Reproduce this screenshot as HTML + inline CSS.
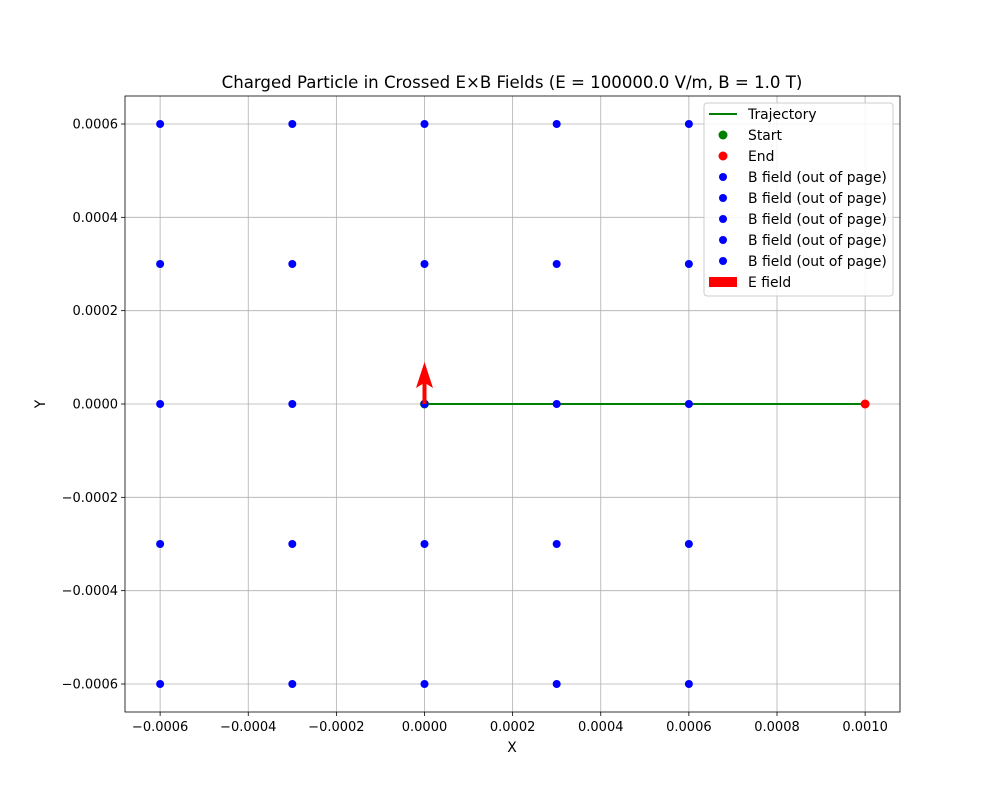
<!DOCTYPE html>
<html><head><meta charset="utf-8"><style>
body{margin:0;background:#fff;}
svg{display:block;font-family:"DejaVu Sans","Liberation Sans",sans-serif;}
</style></head><body>
<svg id="chart" width="1000" height="800" viewBox="0 0 1000 800"></svg>
<script>
const xTicks=[-0.0006,-0.0004,-0.0002,0.0000,0.0002,0.0004,0.0006,0.0008,0.0010];
const yTicks=[-0.0006,-0.0004,-0.0002,0.0000,0.0002,0.0004,0.0006];
const xTickLabels=["\u22120.0006","\u22120.0004","\u22120.0002","0.0000","0.0002","0.0004","0.0006","0.0008","0.0010"];
const yTickLabels=["\u22120.0006","\u22120.0004","\u22120.0002","0.0000","0.0002","0.0004","0.0006"];
const bGridX=[-0.0006,-0.0003,0,0.0003,0.0006];
const bGridY=[-0.0006,-0.0003,0,0.0003,0.0006];
const trajX=[0,0.0010];
const trajY=[0,0];
const startPt=[0,0];
const endPt=[0.0010,0];
const eField=[0,0,0,0.00009];

const L=125,R=900,T=96,B=712;
const sx=v=>424.5+v*(88.125/0.0002);
const sy=v=>404-v*(93.333/0.0002);
const NS="http://www.w3.org/2000/svg";
const svg=document.getElementById('chart');
function mk(tag,attrs,parent){const e=document.createElementNS(NS,tag);for(const k in attrs)e.setAttribute(k,attrs[k]);(parent||svg).appendChild(e);return e;}

const grid=mk('g',{});


xTicks.forEach((v,i)=>{
  mk('line',{x1:sx(v),x2:sx(v),y1:T,y2:B,stroke:'#b0b0b0','stroke-width':0.8},grid);
  mk('line',{x1:sx(v),x2:sx(v),y1:B,y2:B+4,stroke:'#000','stroke-width':0.8});
  const t=mk('text',{x:sx(v),y:B+19,'text-anchor':'middle','font-size':13});
  t.textContent=xTickLabels[i];
  
  
});
yTicks.forEach((v,i)=>{
  mk('line',{x1:L,x2:R,y1:sy(v),y2:sy(v),stroke:'#b0b0b0','stroke-width':0.8},grid);
  mk('line',{x1:L-4,x2:L,y1:sy(v),y2:sy(v),stroke:'#000','stroke-width':0.8});
  const t=mk('text',{x:L-7,y:sy(v)+4.5,'text-anchor':'end','font-size':13});
  t.textContent=yTickLabels[i];
  
  
});

const tr=mk('polyline',{points:trajX.map((x,i)=>sx(x)+','+sy(trajY[i])).join(' '),fill:'none',stroke:'green','stroke-width':2});



const st=mk('circle',{cx:sx(startPt[0]),cy:sy(startPt[1]),r:4.5,fill:'green'});



bGridX.forEach(x=>bGridY.forEach(y=>{
  const c=mk('circle',{cx:sx(x),cy:sy(y),r:4,fill:'blue'});
  
  
}));

const en=mk('circle',{cx:sx(endPt[0]),cy:sy(endPt[1]),r:4.5,fill:'red'});



const ax=sx(eField[0]),ay=sy(eField[1]),tipY=sy(eField[1]+eField[3]);
const headLen=26;
const arrow=mk('polygon',{points:[
  [ax-2,ay],[ax-2,tipY+headLen-4],[ax-8.5,tipY+headLen],[ax,tipY],[ax+8.5,tipY+headLen],[ax+2,tipY+headLen-4],[ax+2,ay]
].map(p=>p.join(',')).join(' '),fill:'red'});



mk('rect',{x:L,y:T,width:R-L,height:B-T,fill:'none',stroke:'#000','stroke-width':0.8});

const lg=mk('g',{});


mk('rect',{x:704,y:103,width:189,height:193,rx:3,fill:'#fff','fill-opacity':0.85,stroke:'#ccc'},lg);
const labels=["Trajectory","Start","End","B field (out of page)","B field (out of page)","B field (out of page)","B field (out of page)","B field (out of page)","E field"];
labels.forEach((s,i)=>{
  const y=114+i*21;
  if(i===0) mk('line',{x1:709,x2:737,y1:y,y2:y,stroke:'green','stroke-width':2},lg);
  else if(i===8) mk('rect',{x:709,y:y-5,width:28,height:10,fill:'red'},lg);
  else mk('circle',{cx:723,cy:y,r:i<3?4.5:4,fill:i===1?'green':i===2?'red':'blue'},lg);
  const t=mk('text',{x:748,y:y+5,'font-size':13.9},lg);
  t.textContent=s;
  
  
});

const title=mk('text',{x:512,y:88,'text-anchor':'middle','font-size':16.6});
title.textContent="Charged Particle in Crossed E\u00d7B Fields (E = 100000.0 V/m, B = 1.0 T)";


const xl=mk('text',{x:512,y:752,'text-anchor':'middle','font-size':13.9});
xl.textContent="X";


const yl=mk('text',{x:45,y:404,'text-anchor':'middle','font-size':13.9,transform:'rotate(-90 45 404)'});
yl.textContent="Y";


</script>
</body></html>
